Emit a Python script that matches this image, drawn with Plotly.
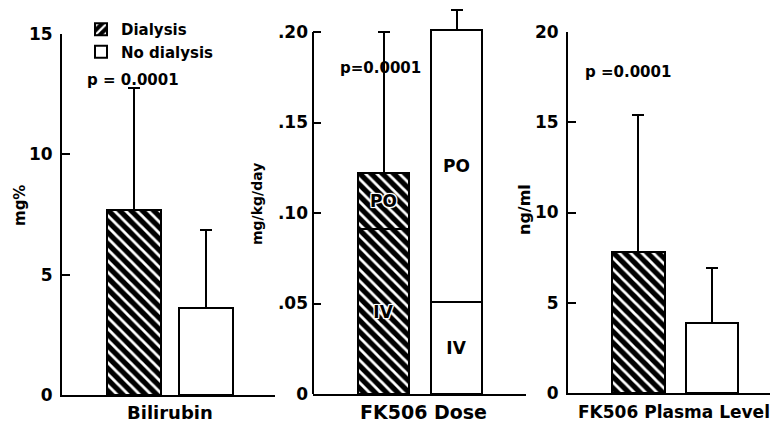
import plotly.graph_objects as go

# ---------------- data ----------------
groups = ["Dialysis", "No dialysis"]

bilirubin_mean = [7.7, 3.6]
bilirubin_sd = [5.05, 3.25]

dose_iv = [0.091, 0.051]
dose_po = [0.031, 0.150]
dose_sd = [0.078, 0.011]
dose_iv_label = ["IV", "IV"]
dose_po_label = ["PO", "PO"]

plasma_mean = [7.8, 3.9]
plasma_sd = [7.6, 3.0]

bili_ticks = [0, 5, 10, 15]
bili_ticktext = ["0", "5", "10", "15"]
dose_ticks = [0, 0.05, 0.10, 0.15, 0.20]
dose_ticktext = ["0", ".05", ".10", ".15", ".20"]
plasma_ticks = [0, 5, 10, 15, 20]
plasma_ticktext = ["0", "5", "10", "15", "20"]

p_values = ["p = 0.0001", "p=0.0001", "p =0.0001"]
panel_titles = ["Bilirubin", "FK506 Dose", "FK506 Plasma Level"]
y_titles = ["mg%", "mg/kg/day", "ng/ml"]

# ---------------- layout helpers ----------------
# the page body has an 8px margin, so the figure is drawn 8px in from the top-left
OFF = 8
W, H = 778 - OFF, 428 - OFF
FONT = "DejaVu Sans"


def px(x):
    return (x - OFF) / W


def py(y):
    return 1 - (y - OFF) / H


hatch = dict(shape="\\", fgcolor="white", bgcolor="black", size=8, solidity=0.35, fillmode="replace")
legend_hatch = dict(shape="/", fgcolor="white", bgcolor="black", size=8, solidity=0.35, fillmode="replace")
outline = dict(color="black", width=2)


def err(vals):
    return dict(type="data", array=vals, arrayminus=[0] * len(vals), symmetric=False,
                color="black", thickness=2, width=6)


fig = go.Figure()

# legend entries
fig.add_trace(go.Bar(x=groups[:1], y=[0], name="Dialysis",
                     marker=dict(color="black", pattern=legend_hatch, line=outline),
                     width=0.745, xaxis="x", yaxis="y", hoverinfo="skip"))
fig.add_trace(go.Bar(x=groups[1:], y=[0], name="No dialysis",
                     marker=dict(color="white", line=outline),
                     width=0.745, xaxis="x", yaxis="y", hoverinfo="skip"))

# Panel 1 : Bilirubin
fig.add_trace(go.Bar(x=groups[:1], y=bilirubin_mean[:1], error_y=err(bilirubin_sd[:1]),
                     marker=dict(color="black", pattern=hatch, line=outline),
                     width=0.745, showlegend=False, xaxis="x", yaxis="y"))
fig.add_trace(go.Bar(x=groups[1:], y=bilirubin_mean[1:], error_y=err(bilirubin_sd[1:]),
                     marker=dict(color="white", line=outline),
                     width=0.745, showlegend=False, xaxis="x", yaxis="y"))

# Panel 2 : FK506 dose (stacked IV + PO)
halo = ", ".join(["0 0 2px #fff"] * 3 + ["1px 1px 0 #fff", "-1px -1px 0 #fff",
                                          "1px -1px 0 #fff", "-1px 1px 0 #fff"])
seg_font = dict(family=FONT, size=17, color="black", weight="bold", shadow=halo)
for i, fill in enumerate(["black", "white"]):
    m = dict(color=fill, line=outline)
    if i == 0:
        m["pattern"] = hatch
    fig.add_trace(go.Bar(x=groups[i:i + 1], y=dose_iv[i:i + 1], text=dose_iv_label[i:i + 1],
                         textposition="inside", insidetextanchor="middle", textfont=seg_font,
                         constraintext="none", marker=m, width=0.71, showlegend=False,
                         xaxis="x2", yaxis="y2"))
    fig.add_trace(go.Bar(x=groups[i:i + 1], y=dose_po[i:i + 1], text=dose_po_label[i:i + 1],
                         textposition="inside", insidetextanchor="middle", textfont=seg_font,
                         constraintext="none", error_y=err(dose_sd[i:i + 1]),
                         marker=m, width=0.71, showlegend=False,
                         xaxis="x2", yaxis="y2"))

# Panel 3 : FK506 plasma level
fig.add_trace(go.Bar(x=groups[:1], y=plasma_mean[:1], error_y=err(plasma_sd[:1]),
                     marker=dict(color="black", pattern=hatch, line=outline),
                     width=0.72, showlegend=False, xaxis="x3", yaxis="y3"))
fig.add_trace(go.Bar(x=groups[1:], y=plasma_mean[1:], error_y=err(plasma_sd[1:]),
                     marker=dict(color="white", line=outline),
                     width=0.72, showlegend=False, xaxis="x3", yaxis="y3"))

tickfont = dict(family=FONT, size=17, color="black", weight="bold")


def xax(d0, d1, r, yname):
    return dict(domain=[px(d0), min(px(d1), 1)], range=r, type="category", categoryorder="array",
                categoryarray=groups, showticklabels=False, ticks="", showline=True,
                linewidth=2, linecolor="black", showgrid=False, zeroline=False,
                anchor=yname, fixedrange=True)


def yax(top, bottom, r, tv, tt, xname, line=True):
    return dict(domain=[py(bottom), min(py(top), 1)], range=r, tickvals=tv, ticktext=tt,
                ticks="inside", ticklen=8, tickwidth=2, tickcolor="black",
                showline=line, linewidth=2, linecolor="black", showgrid=False,
                zeroline=False, tickfont=tickfont, anchor=xname, ticklabelstandoff=4,
                fixedrange=True)


# y axis 2 extends above .20 (to the top of the figure) so the small error bar on top
# is visible; the visible axis line stops at .20 (drawn as a shape in axis coordinates)
dose_zero_px, dose_max_px = 394, 32
dose_top_val = dose_ticks[-1] * (dose_zero_px - OFF) / (dose_zero_px - dose_max_px)
shapes = [dict(type="line", xref="x2 domain", yref="y2", x0=0, x1=0, y0=0, y1=dose_ticks[-1],
               line=dict(color="black", width=2))]

annotations = []
bold = dict(family=FONT, color="black", weight="bold")
for txt, (x, y) in zip(p_values, [(132.5, 80), (380, 68), (628, 72)]):
    annotations.append(dict(text=txt, x=px(x), y=py(y), xref="paper", yref="paper",
                            showarrow=False, xanchor="center", yanchor="middle",
                            font=dict(bold, size=15)))
for txt, (x, y), s in zip(panel_titles, [(170, 412), (423, 412), (674, 412)], [18, 19, 17]):
    annotations.append(dict(text=txt, x=px(x), y=py(y), xref="paper", yref="paper",
                            showarrow=False, xanchor="center", yanchor="middle",
                            font=dict(bold, size=s)))
for txt, (x, y), s in zip(y_titles, [(20, 206), (257, 204), (524, 210)], [15, 14, 16]):
    annotations.append(dict(text=txt, x=px(x), y=py(y), xref="paper", yref="paper",
                            showarrow=False, xanchor="center", yanchor="middle",
                            textangle=-90, font=dict(bold, size=s)))

fig.update_layout(
    width=W, height=H,
    margin=dict(l=0, r=0, t=0, b=0, autoexpand=False),
    paper_bgcolor="white", plot_bgcolor="white",
    barmode="stack",
    xaxis=xax(62, 275, [-0.993, 1.945], "y"),
    yaxis=yax(34, 395, [0, 15], bili_ticks, bili_ticktext, "x"),
    xaxis2=xax(313, 526, [-0.966, 1.952], "y2"),
    yaxis2=yax(OFF, dose_zero_px, [0, dose_top_val], dose_ticks, dose_ticktext, "x2", line=False),
    xaxis3=xax(568, 778, [-0.959, 1.898], "y3"),
    yaxis3=yax(32, 393, [0, 20], plasma_ticks, plasma_ticktext, "x3"),
    legend=dict(x=px(81), y=py(13), xanchor="left", yanchor="top",
                font=dict(family=FONT, size=15, color="black", weight="bold"),
                bgcolor="rgba(0,0,0,0)", tracegroupgap=0, traceorder="normal",
                itemclick=False, itemdoubleclick=False),
    annotations=annotations,
    shapes=shapes,
    showlegend=True,
)

fig.write_html("out.html")
